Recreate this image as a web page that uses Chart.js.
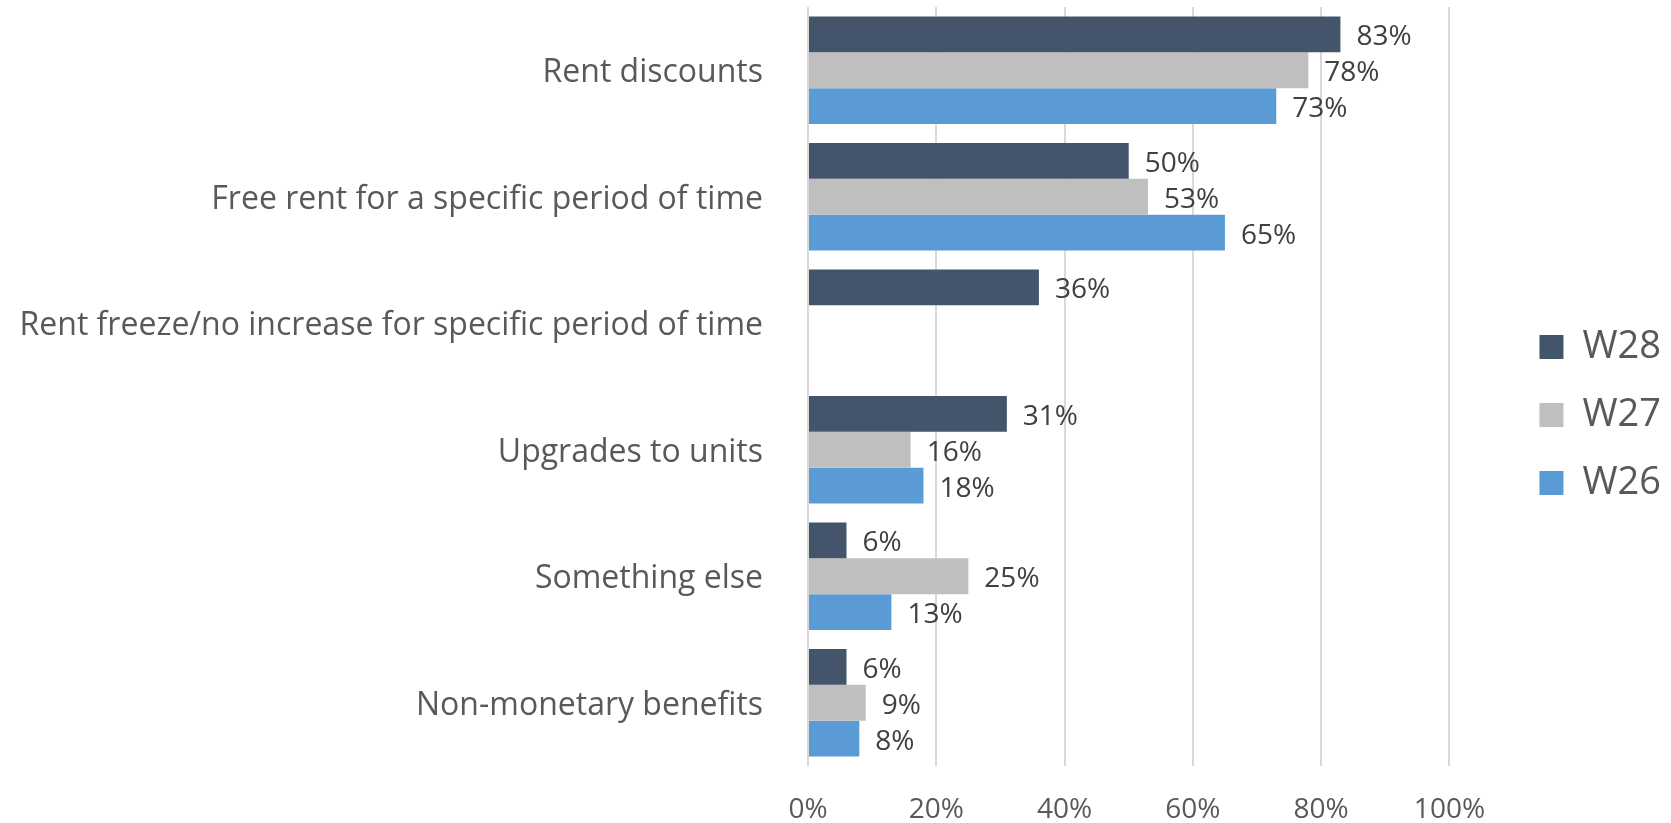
<!DOCTYPE html>
<html>
<head>
<meta charset="utf-8">
<script src="https://cdn.jsdelivr.net/npm/chart.js@4.4.1/dist/chart.umd.min.js"></script>
<style>
  html, body { margin: 0; padding: 0; background: #fff; }
</style>
</head>
<body>
<canvas id="chart" width="1671" height="823"></canvas>
<script>
// categories and series values
const categories = [
  "Rent discounts",
  "Free rent for a specific period of time",
  "Rent freeze/no increase for specific period of time",
  "Upgrades to units",
  "Something else",
  "Non-monetary benefits"
];
const w28 = [83, 50, 36, 31, 6, 6];
const w27 = [78, 53, null, 16, 25, 9];
const w26 = [73, 65, null, 18, 13, 8];
const xTicks = [0, 20, 40, 60, 80, 100];

const FONT = '"Open Sans", "Noto Sans", sans-serif';

// draws the value labels right of each bar
const barLabels = {
  id: "barLabels",
  afterDatasetsDraw(chart) {
    const ctx = chart.ctx;
    ctx.save();
    ctx.font = "28px " + FONT;
    ctx.fillStyle = "#404040";
    ctx.textAlign = "left";
    ctx.textBaseline = "middle";
    chart.data.datasets.forEach((ds, i) => {
      chart.getDatasetMeta(i).data.forEach((bar, j) => {
        const v = ds.data[j];
        if (v == null) return;
        ctx.fillText(v + "%", bar.x + 16, bar.y + 3);
      });
    });
    ctx.restore();
  }
};

// no extra room above/below the plot for tick labels
const noPad = s => { s.paddingTop = 0; s.paddingBottom = 0; s.paddingLeft = 0; s.paddingRight = 0; };

new Chart(document.getElementById("chart"), {
  type: "bar",
  data: {
    labels: categories,
    datasets: [
      { label: "W28", data: w28, backgroundColor: "#44546A" },
      { label: "W27", data: w27, backgroundColor: "#BFBFBF" },
      { label: "W26", data: w26, backgroundColor: "#5B9BD5" }
    ]
  },
  options: {
    indexAxis: "y",
    responsive: false,
    animation: false,
    datasets: {
      bar: { categoryPercentage: 0.85, barPercentage: 1 }
    },
    layout: { padding: { top: 7, bottom: 0, left: 0, right: 0 } },
    scales: {
      x: {
        min: 0,
        max: 100,
        afterBuildTicks: s => { s.ticks = xTicks.map(v => ({ value: v })); },
        afterFit: s => { s.height = 57; noPad(s); },
        grid: { color: "#D9D9D9", lineWidth: 2, drawTicks: false },
        border: { display: false },
        ticks: {
          padding: 27,
          color: "#595959",
          font: { family: FONT, size: 28 },
          callback: v => v + "%"
        }
      },
      y: {
        afterFit: s => { s.width = 808; noPad(s); },
        grid: { display: false },
        border: { display: false },
        ticks: {
          padding: 37,
          labelOffset: 3,
          color: "#595959",
          font: { family: FONT, size: 32 }
        }
      },
      gap: {
        type: "category",
        position: "right",
        axis: "y",
        afterFit: s => { s.width = 60; noPad(s); },
        grid: { display: false },
        border: { display: false },
        ticks: { display: false }
      }
    },
    plugins: {
      legend: {
        position: "right",
        labels: {
          boxWidth: 24,
          boxHeight: 24,
          padding: 30,
          color: "#595959",
          font: { family: FONT, size: 38 }
        }
      },
      tooltip: { enabled: false }
    }
  },
  plugins: [barLabels]
});
</script>
</body>
</html>
